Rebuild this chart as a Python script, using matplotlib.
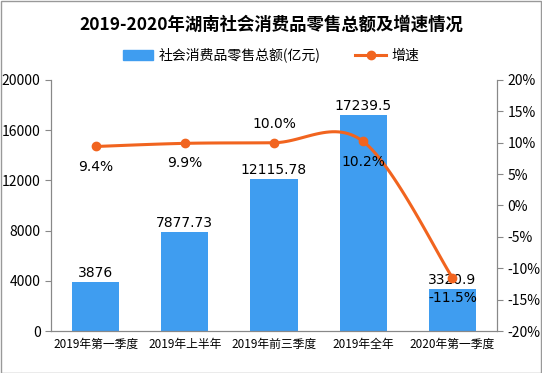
import numpy as np
import matplotlib
matplotlib.use("Agg")
import matplotlib.pyplot as plt

plt.rcParams['font.family'] = ['Noto Sans CJK SC', 'DejaVu Sans']

categories = ['2019年第一季度', '2019年上半年', '2019年前三季度', '2019年全年', '2020年第一季度']
sales = [3876, 7877.73, 12115.78, 17239.5, 3320.9]
sales_labels = ['3876', '7877.73', '12115.78', '17239.5', '3320.9']
growth = [9.4, 9.9, 10.0, 10.2, -11.5]
growth_labels = ['9.4%', '9.9%', '10.0%', '10.2%', '-11.5%']

bar_color = '#3f9df0'
line_color = '#f1641f'
axis_color = '#888888'

fig = plt.figure(figsize=(5.42, 3.73), dpi=100)
ax = fig.add_axes([0.094, 0.1126, 0.823, 0.673])
ax2 = ax.twinx()

x = np.arange(len(categories))
ax.bar(x, sales, width=0.53, color=bar_color, zorder=2)
ax.set_xlim(-0.5, len(categories) - 0.5)
ax.set_ylim(0, 20000)
ax.set_yticks(np.arange(0, 20001, 4000))
ax.set_xticks(x)
ax.set_xticklabels(categories, fontsize=8.5)
ax.tick_params(axis='x', length=0, pad=5)
ax.tick_params(axis='y', colors=axis_color, labelcolor='black', labelsize=10, length=4, direction='out')
for s in ['top']:
    ax.spines[s].set_visible(False)
    ax2.spines[s].set_visible(False)
for s in ['left', 'right', 'bottom']:
    ax.spines[s].set_color(axis_color)
    ax2.spines[s].set_color(axis_color)

for xi, v, lab in zip(x, sales, sales_labels):
    ax.text(xi, v + 150, lab, ha='center', va='bottom', fontsize=10, family='DejaVu Sans')

# smoothed line (Catmull-Rom through data points)
def catmull(px, py, n=30):
    px = np.asarray(px, float); py = np.asarray(py, float)
    P = np.column_stack([px, py])
    P = np.vstack([P[0], P, P[-1]])
    out = []
    for i in range(1, len(P) - 2):
        p0, p1, p2, p3 = P[i-1], P[i], P[i+1], P[i+2]
        t = np.linspace(0, 1, n)[:, None]
        seg = 0.5 * ((2*p1) + (-p0 + p2)*t + (2*p0 - 5*p1 + 4*p2 - p3)*t**2 + (-p0 + 3*p1 - 3*p2 + p3)*t**3)
        out.append(seg)
    out = np.vstack(out)
    return out[:, 0], out[:, 1]

sx, sy = catmull(x, growth)
ax2.plot(sx, sy, color=line_color, lw=2.2, zorder=3)
ax2.plot(x, growth, 'o', color=line_color, ms=6, zorder=4)
ax2.set_ylim(-20, 20)
ax2.set_yticks(np.arange(-20, 21, 5))
ax2.set_yticklabels([f'{v}%' for v in range(-20, 21, 5)])
ax2.tick_params(axis='y', colors=axis_color, labelcolor='black', labelsize=10, length=4, direction='out')

offsets = [-3.2, -3.2, 3.0, -3.2, -3.2]
for xi, v, lab, off in zip(x, growth, growth_labels, offsets):
    ax2.text(xi, v + off, lab, ha='center', va='center', fontsize=10, family='DejaVu Sans')

ax.set_zorder(1)
ax2.set_zorder(2)
ax2.patch.set_visible(False)

fig.text(0.5, 0.935, '2019-2020年湖南社会消费品零售总额及增速情况', ha='center', va='center',
         fontsize=12.5, fontweight='bold')

from matplotlib.patches import Rectangle
from matplotlib.lines import Line2D
h1 = Rectangle((0, 0), 1, 1, color=bar_color)
h2 = Line2D([0], [0], color=line_color, lw=2.2, marker='o', ms=6)
fig.legend([h1, h2], ['社会消费品零售总额(亿元)', '增速'], loc='center', bbox_to_anchor=(0.5, 0.852),
           ncol=2, frameon=False, fontsize=10, handlelength=2.2, columnspacing=2.5, handletextpad=0.4)

fig.patches.append(Rectangle((0.001, 0.001), 0.997, 0.997, transform=fig.transFigure,
                             fill=False, edgecolor='#999999', lw=1))

fig.savefig('out.png', dpi=100)
